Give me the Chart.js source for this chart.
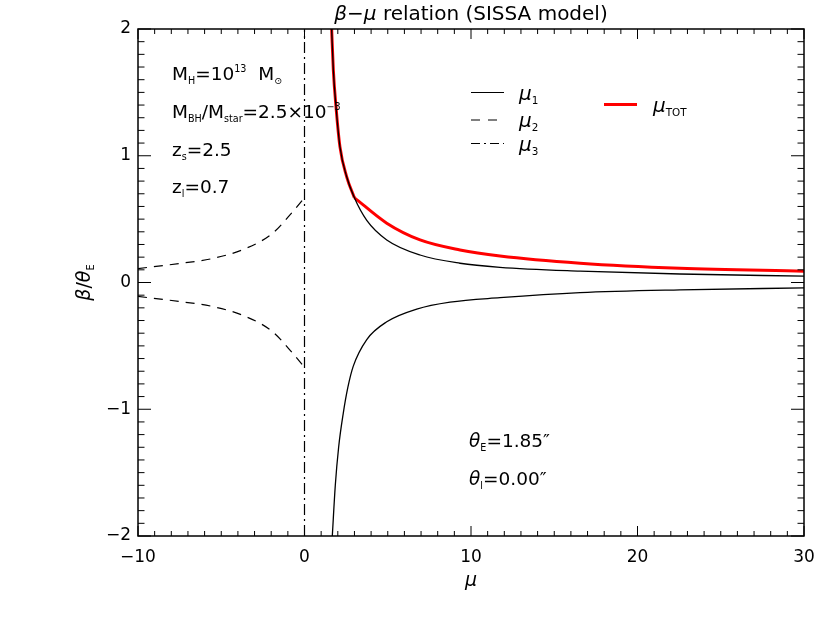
<!DOCTYPE html>
<html>
<head>
<meta charset="utf-8">
<script src="https://cdn.jsdelivr.net/npm/chart.js@4"></script>
<style>
  body { margin: 0; background: #fff; }
  canvas { display: block; }
</style>
</head>
<body>
<canvas id="graph" width="830" height="624"></canvas>
<script>
// values (mu on x, beta/theta_E on y)
var mu1UpX   = [1.63, 1.73, 1.89, 2.13, 2.53, 2.99, 3.74, 4.94, 6.94, 9.34, 11.74, 16.55, 22.55, 30];
var mu1UpY   = [2.0, 1.68, 1.39, 1.07, 0.836, 0.67, 0.49, 0.336, 0.217, 0.152, 0.12, 0.09, 0.067, 0.05];
var mu1LowX  = [1.67, 1.85, 2.05, 2.33, 2.6, 2.93, 3.74, 4.94, 6.74, 8.74, 11.74, 16.55, 22.55, 30];
var mu1LowY  = [-2.0, -1.6, -1.3, -1.03, -0.83, -0.66, -0.45, -0.31, -0.21, -0.155, -0.12, -0.08, -0.058, -0.043];
var mu2X     = [-10, -7.5, -5.5, -3.5, -1.9, -0.7, 0];
var mu2UpY   = [0.11, 0.15, 0.19, 0.27, 0.39, 0.56, 0.67];
var mu2LowY  = [-0.11, -0.15, -0.19, -0.27, -0.39, -0.56, -0.67];
var mu3X     = [0, 0];
var mu3Y     = [-2, 2];
var muTotX   = [1.63, 1.73, 1.89, 2.13, 2.53, 2.99, 4.94, 6.94, 9.34, 11.74, 16.55, 22.55, 30];
var muTotY   = [2.0, 1.68, 1.39, 1.07, 0.836, 0.67, 0.468, 0.336, 0.257, 0.209, 0.152, 0.112, 0.089];
var muTotKink = 5; // index of the corner where mu_TOT leaves mu_1

var xTicks = [-10, 0, 10, 20, 30];
var yTicks = [-2, -1, 0, 1, 2];
var xMinorStep = 1;
var yMinorStep = 0.1;

var FONT = "'DejaVu Sans', sans-serif";
var TXT = 18.5;

function pts(xs, ys) {
    return xs.map(function (x, i) { return { x: x, y: ys[i] }; });
}

// draw text pieces with sub/superscripts, returns end x
function rich(ctx, x, y, parts, size) {
    ctx.textBaseline = 'alphabetic';
    ctx.textAlign = 'left';
    parts.forEach(function (p) {
        var s = size, dy = 0;
        if (p.sub) { s = size * 0.52; dy = size * 0.2; }
        if (p.sup) { s = size * 0.52; dy = -size * 0.45; }
        ctx.font = (p.it ? 'italic ' : '') + s + 'px ' + FONT;
        ctx.fillText(p.t, x, y + dy);
        x += ctx.measureText(p.t).width;
    });
    return x;
}

function richWidth(ctx, parts, size) {
    var w = 0;
    parts.forEach(function (p) {
        var s = (p.sub || p.sup) ? size * 0.52 : size;
        ctx.font = (p.it ? 'italic ' : '') + s + 'px ' + FONT;
        w += ctx.measureText(p.t).width;
    });
    return w;
}

var decor = {
    id: 'decor',
    afterDraw: function (chart) {
        var ctx = chart.ctx;
        var a = chart.chartArea;
        var sx = chart.scales.x, sy = chart.scales.y;
        ctx.save();
        ctx.fillStyle = '#000';
        ctx.strokeStyle = '#000';

        // frame
        ctx.lineWidth = 1.5;
        ctx.setLineDash([]);
        ctx.strokeRect(a.left, a.top, a.right - a.left, a.bottom - a.top);

        // inward ticks on all sides
        ctx.lineWidth = 1;
        ctx.beginPath();
        for (var v = -10; v <= 30.001; v += xMinorStep) {
            var px = sx.getPixelForValue(v);
            var len = xTicks.indexOf(Math.round(v)) >= 0 ? 10 : 5;
            ctx.moveTo(px, a.bottom); ctx.lineTo(px, a.bottom - len);
            ctx.moveTo(px, a.top); ctx.lineTo(px, a.top + len);
        }
        for (var k = -20; k <= 20; k++) {
            var py = sy.getPixelForValue(k * yMinorStep);
            var l2 = k % 10 === 0 ? 13 : 6.5;
            ctx.moveTo(a.left, py); ctx.lineTo(a.left + l2, py);
            ctx.moveTo(a.right, py); ctx.lineTo(a.right - l2, py);
        }
        ctx.stroke();

        // title
        var cx = (a.left + a.right) / 2;
        var titleParts = [{ t: 'β', it: true }, { t: '−' }, { t: 'μ', it: true }, { t: ' relation (SISSA model)' }];
        rich(ctx, cx - richWidth(ctx, titleParts, 20) / 2, 20, titleParts, 20);

        // axis titles
        ctx.font = 'italic 19px ' + FONT;
        ctx.textAlign = 'center';
        ctx.fillText('μ', cx, 586);
        ctx.save();
        ctx.translate(90, (a.top + a.bottom) / 2);
        ctx.rotate(-Math.PI / 2);
        var yl = [{ t: 'β', it: true }, { t: '/' }, { t: 'θ', it: true }, { t: 'E', sub: true }];
        rich(ctx, -richWidth(ctx, yl, 19) / 2, 0, yl, 19);
        ctx.restore();

        // annotations
        rich(ctx, 172, 80, [{ t: 'M' }, { t: 'H', sub: true }, { t: '=10' }, { t: '13', sup: true }, { t: '  M' }, { t: '⊙', sub: true }], TXT);
        rich(ctx, 172, 118, [{ t: 'M' }, { t: 'BH', sub: true }, { t: '/M' }, { t: 'star', sub: true }, { t: '=2.5×10' }, { t: '−3', sup: true }], TXT);
        rich(ctx, 172, 156, [{ t: 'z' }, { t: 's', sub: true }, { t: '=2.5' }], TXT);
        rich(ctx, 172, 193, [{ t: 'z' }, { t: 'l', sub: true }, { t: '=0.7' }], TXT);
        rich(ctx, 469, 447, [{ t: 'θ', it: true }, { t: 'E', sub: true }, { t: '=1.85″' }], TXT);
        rich(ctx, 469, 485, [{ t: 'θ', it: true }, { t: 'l', sub: true }, { t: '=0.00″' }], TXT);

        // legend
        var leg = [
            { y: 92.5, dash: [], label: '1' },
            { y: 120, dash: [9, 8], label: '2' },
            { y: 143.5, dash: [9, 4, 2, 4], label: '3' }
        ];
        ctx.lineWidth = 1.2;
        leg.forEach(function (it) {
            ctx.setLineDash(it.dash);
            ctx.beginPath();
            ctx.moveTo(471, it.y); ctx.lineTo(504, it.y);
            ctx.stroke();
            rich(ctx, 519, it.y + 7, [{ t: 'μ', it: true }, { t: it.label, sub: true }], 20);
        });
        ctx.setLineDash([]);
        ctx.strokeStyle = '#ff0000';
        ctx.lineWidth = 3;
        ctx.beginPath();
        ctx.moveTo(604, 104.5); ctx.lineTo(637, 104.5);
        ctx.stroke();
        rich(ctx, 653, 112, [{ t: 'μ', it: true }, { t: 'TOT', sub: true }], 20);

        ctx.restore();
    }
};

var black = '#000000';
var red = '#ff0000';
var totPts = pts(muTotX, muTotY);
var ctx = document.getElementById('graph');
var chart = new Chart(ctx, {
    type: 'scatter',
    data: {
        datasets: [
            { label: 'mu1 up', data: pts(mu1UpX, mu1UpY), borderColor: black, borderWidth: 1.3, cubicInterpolationMode: 'monotone' },
            { label: 'mu1 low', data: pts(mu1LowX, mu1LowY), borderColor: black, borderWidth: 1.3, cubicInterpolationMode: 'monotone' },
            { label: 'mu2 up', data: pts(mu2X, mu2UpY), borderColor: black, borderWidth: 1.2, borderDash: [9, 7], cubicInterpolationMode: 'monotone' },
            { label: 'mu2 low', data: pts(mu2X, mu2LowY), borderColor: black, borderWidth: 1.2, borderDash: [9, 7], cubicInterpolationMode: 'monotone' },
            { label: 'mu3', data: pts(mu3X, mu3Y), borderColor: black, borderWidth: 1.2, borderDash: [11, 4, 2, 4] },
            // mu_TOT in two pieces so the corner stays sharp
            { label: 'mu tot a', data: totPts.slice(0, muTotKink + 1), borderColor: red, borderWidth: 3, cubicInterpolationMode: 'monotone' },
            { label: 'mu tot b', data: totPts.slice(muTotKink), borderColor: red, borderWidth: 3, cubicInterpolationMode: 'monotone' }
        ]
    },
    options: {
        responsive: false,
        animation: false,
        showLine: true,
        elements: { point: { radius: 0, hoverRadius: 0 } },
        layout: { padding: { left: 0, right: 26, top: 29, bottom: 0 } },
        plugins: { legend: { display: false }, tooltip: { enabled: false } },
        events: [],
        scales: {
            x: {
                type: 'linear',
                position: 'bottom',
                min: -10, max: 30,
                afterBuildTicks: function (s) { s.ticks = xTicks.map(function (v) { return { value: v }; }); },
                ticks: {
                    color: black, padding: 11,
                    font: { family: 'DejaVu Sans', size: 17 },
                    callback: function (v) { return v < 0 ? '−' + Math.abs(v) : '' + v; }
                },
                grid: { display: false, drawTicks: false },
                border: { display: false },
                afterFit: function (s) { s.height = 88; }
            },
            y: {
                type: 'linear',
                min: -2, max: 2,
                afterBuildTicks: function (s) { s.ticks = yTicks.map(function (v) { return { value: v }; }); },
                ticks: {
                    color: black, padding: 7,
                    font: { family: 'DejaVu Sans', size: 17 },
                    callback: function (v) { return v < 0 ? '−' + Math.abs(v) : '' + v; }
                },
                grid: { display: false, drawTicks: false },
                border: { display: false },
                afterFit: function (s) { s.height = undefined; s.width = 138; }
            }
        }
    },
    plugins: [decor]
});
</script>
</body>
</html>
